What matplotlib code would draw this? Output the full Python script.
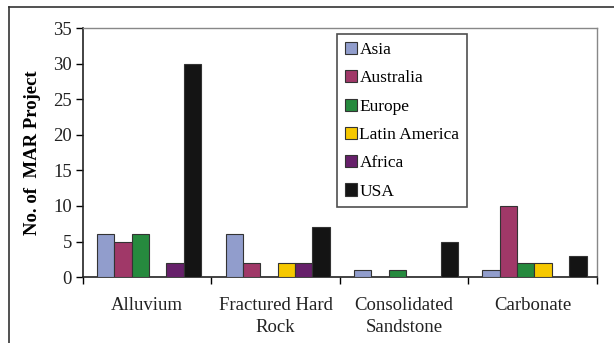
import numpy as np
import matplotlib
matplotlib.use("Agg")
import matplotlib.pyplot as plt
from matplotlib.lines import Line2D

# data
categories = ["Alluvium", "Fractured Hard\nRock", "Consolidated\nSandstone", "Carbonate"]
regions = ["Asia", "Australia", "Europe", "Latin America", "Africa", "USA"]
asia = [6, 6, 1, 1]
australia = [5, 2, 0, 10]
europe = [6, 0, 1, 2]
latin_america = [0, 2, 0, 2]
africa = [2, 2, 0, 0]
usa = [30, 7, 5, 3]
series = [asia, australia, europe, latin_america, africa, usa]
colors = ["#919dcc", "#a03868", "#268a3e", "#f6c800", "#66206a", "#141414"]

plt.rcParams["font.family"] = ["Liberation Serif", "DejaVu Serif"]

fig = plt.figure(figsize=(6.14, 3.43), dpi=100)
ax = fig.add_axes([0.135, 0.192, 0.837, 0.726])

x = np.arange(len(categories))
bar_w = 0.135
offset = 0.11
for k, (vals, col, name) in enumerate(zip(series, colors, regions)):
    ax.bar(x + offset + k * bar_w, vals, width=bar_w, align="edge",
           color=col, edgecolor="#333333", linewidth=0.8, label=name, zorder=3)

ax.set_xlim(0, len(categories))
ax.set_ylim(0, 35)
ax.set_yticks(range(0, 36, 5))
ax.set_xticks(x + 0.5)
ax.set_xticklabels(categories, fontsize=13.5, linespacing=1.45)
ax.set_xticks(np.arange(len(categories) + 1), minor=True)
ax.tick_params(axis="x", which="major", length=0, pad=14)
ax.tick_params(axis="x", which="minor", length=5, width=1, direction="out")
ax.tick_params(axis="y", labelsize=13.5, length=5, width=1, pad=3)
for lab in ax.get_xticklabels():
    lab.set_color("#222222")
for lab in ax.get_yticklabels():
    lab.set_color("#222222")

ax.set_ylabel("No. of  MAR Project", fontsize=13.5, fontweight="bold", labelpad=9)

for s in ["left", "bottom"]:
    ax.spines[s].set_color("#222222")
    ax.spines[s].set_linewidth(1.2)
for s in ["top", "right"]:
    ax.spines[s].set_color("#888888")
    ax.spines[s].set_linewidth(1.0)

leg = ax.legend(loc="upper left", bbox_to_anchor=(0.494, 0.976), fontsize=12.5,
                frameon=True, fancybox=False, edgecolor="#222222",
                handlelength=0.7, handleheight=0.7, handletextpad=0.15,
                labelspacing=0.7, borderpad=0.45, borderaxespad=0)
leg.get_frame().set_linewidth(1.2)

# outer chart border (top and left visible)
fig.add_artist(Line2D([9 / 614, 9 / 614], [0, 1 - 7 / 343], transform=fig.transFigure,
                      color="#333333", linewidth=1.2))
fig.add_artist(Line2D([9 / 614, 1], [1 - 7 / 343, 1 - 7 / 343], transform=fig.transFigure,
                      color="#333333", linewidth=1.2))

fig.savefig("out.png", dpi=100)
